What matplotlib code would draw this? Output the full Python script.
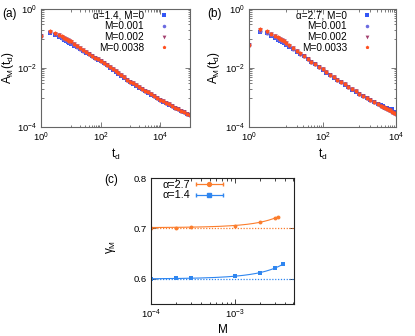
import numpy as np
import matplotlib
matplotlib.use('Agg')
import matplotlib.pyplot as plt
from matplotlib.ticker import FixedLocator, LogFormatterSciNotation, NullFormatter
from matplotlib.legend_handler import HandlerErrorbar
from matplotlib.container import ErrorbarContainer

plt.rcParams['font.family'] = ['Liberation Sans', 'DejaVu Sans']
plt.rcParams['mathtext.fontset'] = 'custom'
plt.rcParams['mathtext.rm'] = 'Liberation Sans'
plt.rcParams['mathtext.it'] = 'Liberation Sans:italic'
plt.rcParams['font.size'] = 6.8

# ---------------- data ----------------
# log10(t_d) grid of early times (t = 1..10, then 10^1.1 ... 10^1.9)
logt_head = [0.0, 0.301, 0.477, 0.602, 0.699, 0.778, 0.845, 0.903, 0.954, 1.0,
             1.1, 1.2, 1.3, 1.4, 1.5, 1.6, 1.7, 1.8, 1.9]

# panel (a): alpha = 1.4, log10 A_M(t_d)
labels_a = ['α=1.4, M=0', 'M=0.001', 'M=0.002', 'M=0.0038']
logA_a_head_M0 = [-0.90, -0.80, -0.87, -0.94, -0.99, -1.04, -1.08, -1.11, -1.15, -1.18,
                  -1.24, -1.30, -1.36, -1.42, -1.48, -1.54, -1.60, -1.66, -1.715]
logA_a_head_M1 = [-0.90, -0.79, -0.855, -0.92, -0.97, -1.02, -1.06, -1.09, -1.13, -1.16,
                  -1.22, -1.28, -1.34, -1.41, -1.47, -1.53, -1.59, -1.655, -1.71]
logA_a_head_M2 = [-0.90, -0.77, -0.835, -0.89, -0.94, -0.99, -1.03, -1.06, -1.09, -1.12,
                  -1.19, -1.26, -1.33, -1.39, -1.455, -1.52, -1.585, -1.65, -1.705]
logA_a_head_M3 = [-0.90, -0.76, -0.82, -0.87, -0.92, -0.97, -1.01, -1.04, -1.07, -1.10,
                  -1.17, -1.24, -1.31, -1.38, -1.445, -1.51, -1.58, -1.645, -1.70]
logt_tail_a = [2.0, 2.1, 2.2, 2.3, 2.4, 2.5, 2.6, 2.7, 2.8, 2.9, 3.0, 3.1, 3.2, 3.3, 3.4,
               3.5, 3.6, 3.7, 3.8, 3.9, 4.0, 4.1, 4.2, 4.3, 4.4, 4.5, 4.6, 4.7, 4.8, 4.9, 5.0]
logA_tail_a = [-1.76, -1.83, -1.90, -1.97, -2.04, -2.11, -2.18, -2.25, -2.32, -2.39,
               -2.46, -2.525, -2.59, -2.65, -2.71, -2.77, -2.83, -2.89, -2.95, -3.01,
               -3.07, -3.125, -3.18, -3.235, -3.29, -3.34, -3.39, -3.445, -3.495, -3.55, -3.60]
logA_tail_a_M0 = [-1.775, -1.845, -1.915, -1.985, -2.055, -2.125, -2.195, -2.265, -2.335, -2.405,
                  -2.475, -2.54, -2.605, -2.665, -2.725, -2.785, -2.845, -2.905, -2.965, -3.025,
                  -3.085, -3.14, -3.195, -3.25, -3.30, -3.35, -3.40, -3.455, -3.505, -3.56, -3.61]

# panel (b): alpha = 2.7
labels_b = ['α=2.7, M=0', 'M=0.001', 'M=0.002', 'M=0.0033']
logA_b_head_M0 = [-1.22, -0.78, -0.82, -0.91, -0.99, -1.04, -1.08, -1.12, -1.16, -1.21,
                  -1.29, -1.37, -1.45, -1.53, -1.61, -1.70, -1.79, -1.88, -1.97]
logA_b_head_M1 = [-1.22, -0.75, -0.80, -0.89, -0.96, -1.01, -1.05, -1.09, -1.13, -1.19,
                  -1.27, -1.35, -1.44, -1.52, -1.60, -1.69, -1.79, -1.875, -1.965]
logA_b_head_M2 = [-1.22, -0.70, -0.78, -0.86, -0.92, -0.97, -1.02, -1.06, -1.10, -1.16,
                  -1.25, -1.33, -1.42, -1.51, -1.60, -1.685, -1.78, -1.87, -1.96]
logA_b_head_M3 = [-1.22, -0.67, -0.76, -0.84, -0.90, -0.95, -1.00, -1.04, -1.08, -1.14,
                  -1.23, -1.32, -1.41, -1.50, -1.59, -1.68, -1.78, -1.87, -1.96]
logt_tail_b = [2.0, 2.1, 2.2, 2.3, 2.4, 2.5, 2.6, 2.7, 2.8, 2.9, 3.0, 3.1, 3.2, 3.3, 3.4,
               3.5, 3.6, 3.65, 3.7, 3.75, 3.8, 3.85, 3.9, 3.95, 4.0]
logA_tail_b = [-2.05, -2.14, -2.225, -2.31, -2.395, -2.475, -2.555, -2.635, -2.715, -2.79,
               -2.865, -2.94, -3.01, -3.08, -3.15, -3.215, -3.28, -3.31, -3.345, -3.38,
               -3.41, -3.44, -3.48, -3.52, -3.56]
logA_tail_b_M0 = [-2.065, -2.155, -2.24, -2.325, -2.41, -2.49, -2.57, -2.65, -2.73, -2.805,
                  -2.88, -2.955, -3.025, -3.095, -3.165, -3.23, -3.27, -3.30, -3.34, -3.36,
                  -3.39, -3.43, -3.40, -3.50, -3.49]

# panel (c): exponent gamma_M vs M
M_27 = [1e-4, 2e-4, 3e-4, 1e-3, 2e-3, 3e-3, 3.3e-3]
gamma_27 = [0.7015, 0.7015, 0.7036, 0.7056, 0.712, 0.721, 0.723]
M_14 = [1e-4, 2e-4, 3e-4, 1e-3, 2e-3, 3e-3, 3.8e-3]
gamma_14 = [0.600, 0.6007, 0.6013, 0.605, 0.6125, 0.621, 0.6295]
gamma0_27 = 0.7
gamma0_14 = 0.6

# ---------------- styles ----------------
W, H = 415, 336
fig = plt.figure(figsize=(W / 100, H / 100), dpi=100)

def ax_at(l, t, r, b):
    return fig.add_axes([l / W, 1 - b / H, (r - l) / W, (b - t) / H])

ser_styles = [
    dict(marker='s', color='#3356f5', ms=3.0),
    dict(marker='o', color='#6b6be0', ms=3.0),
    dict(marker='v', color='#a3406e', ms=3.2),
    dict(marker='p', color='#ff5020', ms=3.2),
]

def style_axes(ax, spine_color):
    for s in ax.spines.values():
        s.set_color(spine_color)
        s.set_linewidth(0.8)
    ax.tick_params(which='both', direction='in', top=True, right=True,
                   color=spine_color, width=0.6, labelsize=6.8, pad=3)
    ax.tick_params(which='major', length=3.5)
    ax.tick_params(which='minor', length=1.8)

def log_ticks(axis, majors, minors):
    axis.set_major_locator(FixedLocator(majors))
    axis.set_minor_locator(FixedLocator(minors))
    axis.set_major_formatter(LogFormatterSciNotation())
    axis.set_minor_formatter(NullFormatter())

def panel(ax, heads, logt_tail, tails, labels, xmax_exp, legend_x):
    for head, tail, lab, st in zip(heads, tails, labels, ser_styles):
        lt = np.array(logt_head + logt_tail)
        la = np.array(head + tail)
        ax.plot(10 ** lt, 10 ** la, linestyle='none', marker=st['marker'],
                color=st['color'], ms=st['ms'], mew=0, label=lab)
    ax.set_xscale('log')
    ax.set_yscale('log')
    ax.set_xlim(1, 10 ** xmax_exp)
    ax.set_ylim(1e-4, 1)
    xmaj = [1, 1e2, 1e4]
    xmin = [10 ** (2 * n + 1) * k for n in range(3) for k in range(1, 10)]
    log_ticks(ax.xaxis, xmaj, [v for v in xmin if v <= 10 ** xmax_exp])
    ymaj = [1e-4, 1e-2, 1]
    ymin = [10.0 ** (-2 * n - 1) * k for n in range(2) for k in range(1, 10)]
    log_ticks(ax.yaxis, ymaj, ymin)
    style_axes(ax, '#666666')
    ax.set_xlabel(r'$\mathregular{t_d}$', fontsize=8.5)
    ax.set_ylabel(r'$\mathregular{A_M(t_d)}$', fontsize=8.5)
    ax.legend(loc='upper right', bbox_to_anchor=(legend_x, 0.985), frameon=False,
              markerfirst=False, handlelength=2.0, handletextpad=1.0,
              labelspacing=0.07, borderpad=0, borderaxespad=0, fontsize=7.2,
              numpoints=1, markerscale=0.85)

ax_a = ax_at(41, 9, 190, 127)
panel(ax_a, [logA_a_head_M0, logA_a_head_M1, logA_a_head_M2, logA_a_head_M3],
      logt_tail_a, [logA_tail_a_M0, logA_tail_a, logA_tail_a, logA_tail_a], labels_a, 5, 0.893)
ax_a.xaxis.set_label_coords(0.5, -0.165)
ax_a.yaxis.set_label_coords(-0.165, 0.5)

ax_b = ax_at(249, 9, 396, 127)
panel(ax_b, [logA_b_head_M0, logA_b_head_M1, logA_b_head_M2, logA_b_head_M3],
      logt_tail_b, [logA_tail_b_M0, logA_tail_b, logA_tail_b, logA_tail_b], labels_b, 4, 0.871)
ax_b.xaxis.set_label_coords(0.5, -0.165)
ax_b.yaxis.set_label_coords(-0.187, 0.5)

# panel (c)
ax_c = ax_at(151, 178, 294, 304)
c_or = '#fb7d2d'
c_bl = '#2f86f0'
for M, g, g0, col, mk, ms in [(M_27, gamma_27, gamma0_27, c_or, 'o', 2.8),
                              (M_14, gamma_14, gamma0_14, c_bl, 's', 2.8)]:
    M = np.array(M)
    g = np.array(g)
    coef = np.polyfit(M, g, 2)
    mm = np.geomspace(M.min(), M.max(), 200)
    ax_c.plot(mm, np.polyval(coef, mm), color=col, lw=0.8)
    ax_c.plot(M, g, linestyle='none', marker=mk, color=col, ms=ms, mew=0)
    ax_c.axhline(g0, color=col, lw=0.9, ls=(0, (1, 1.3)))

h27 = ax_c.errorbar([np.nan], [np.nan], xerr=[np.nan], fmt='-o', color=c_or, ms=2.8,
                    lw=0.8, capsize=1.6, elinewidth=0.8, label='α=2.7')
h14 = ax_c.errorbar([np.nan], [np.nan], xerr=[np.nan], fmt='-s', color=c_bl, ms=2.8,
                    lw=0.8, capsize=1.6, elinewidth=0.8, label='α=1.4')
ax_c.legend(handles=[h27, h14], loc='upper left', bbox_to_anchor=(0.077, 0.985),
            frameon=False, markerfirst=False, handlelength=2.5, handletextpad=0.55,
            labelspacing=0.05, borderpad=0, borderaxespad=0, fontsize=7.8,
            handler_map={ErrorbarContainer: HandlerErrorbar(xerr_size=1.25)})

ax_c.set_xscale('log')
ax_c.set_xlim(1e-4, 5.08e-3)
ax_c.set_ylim(0.55, 0.8)
log_ticks(ax_c.xaxis, [1e-4, 1e-3],
          [k * 1e-4 for k in range(2, 10)] + [k * 1e-3 for k in range(2, 6)])
ax_c.set_yticks([0.6, 0.7, 0.8])
ax_c.yaxis.set_minor_locator(FixedLocator([]))
style_axes(ax_c, '#222222')
ax_c.set_xlabel('M', fontsize=8.5)
ax_c.set_ylabel(r'$\mathregular{γ_M}$', fontsize=8.5)
ax_c.xaxis.set_label_coords(0.5, -0.155)
ax_c.yaxis.set_label_coords(-0.23, 0.45)

fig.text(2 / W, 1 - 14 / H, '(a)', fontsize=8.5, va='center', ha='left')
fig.text(207 / W, 1 - 14 / H, '(b)', fontsize=8.5, va='center', ha='left')
fig.text(104 / W, 1 - 180 / H, '(c)', fontsize=8.5, va='center', ha='left')

fig.savefig('out.png', dpi=100)
